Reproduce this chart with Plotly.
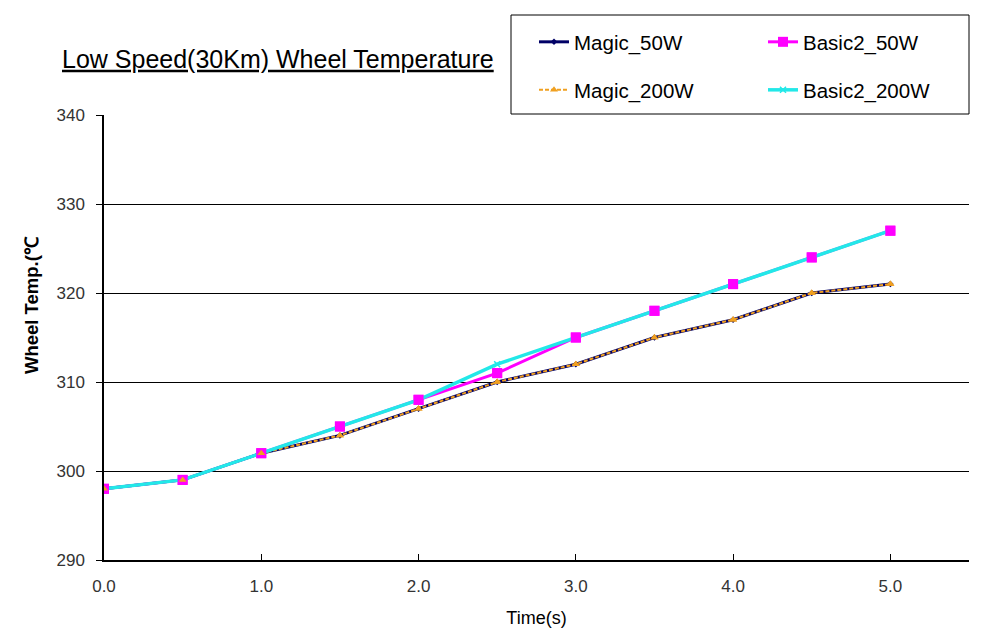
import plotly.graph_objects as go

time_s = [0.0, 0.5, 1.0, 1.5, 2.0, 2.5, 3.0, 3.5, 4.0, 4.5, 5.0]
magic_50w = [298, 299, 302, 304, 307, 310, 312, 315, 317, 320, 321]
magic_200w = [298, 299, 302, 304, 307, 310, 312, 315, 317, 320, 321]
basic2_50w = [298, 299, 302, 305, 308, 311, 315, 318, 321, 324, 327]
basic2_200w = [298, 299, 302, 305, 308, 312, 315, 318, 321, 324, 327]

x_ticks = [0, 1, 2, 3, 4, 5]
x_ticklabels = ["0.0", "1.0", "2.0", "3.0", "4.0", "5.0"]
y_ticks = [290, 300, 310, 320, 330, 340]

FONT = "Liberation Sans"
NAVY = "#000066"
MAGENTA = "#FF00FF"
ORANGE = "#F0A020"
CYAN = "#22E8E8"

fig = go.Figure()
fig.add_trace(go.Scatter(x=time_s, y=magic_50w, name="Magic_50W", mode="lines+markers",
                         line=dict(color=NAVY, width=3),
                         marker=dict(symbol="diamond", size=5, color=NAVY),
                         legend="legend"))
fig.add_trace(go.Scatter(x=time_s, y=basic2_50w, name="Basic2_50W", mode="lines+markers",
                         line=dict(color=MAGENTA, width=3),
                         marker=dict(symbol="square", size=10, color=MAGENTA),
                         legend="legend"))
fig.add_trace(go.Scatter(x=time_s, y=magic_200w, name="Magic_200W", mode="lines+markers",
                         line=dict(color=ORANGE, width=2, dash="4px,2px"),
                         marker=dict(symbol="triangle-up", size=7, color=ORANGE),
                         legend="legend2"))
fig.add_trace(go.Scatter(x=time_s, y=basic2_200w, name="Basic2_200W", mode="lines+markers",
                         line=dict(color=CYAN, width=3.5),
                         marker=dict(symbol="x-thin", size=6, color=CYAN, line=dict(color=CYAN, width=1.5)),
                         legend="legend2"))
# markers drawn above the lines
fig.add_trace(go.Scatter(x=time_s, y=basic2_50w, mode="markers", showlegend=False, hoverinfo="skip",
                         marker=dict(symbol="square", size=10, color=MAGENTA)))
fig.add_trace(go.Scatter(x=time_s, y=magic_200w, mode="markers", showlegend=False, hoverinfo="skip",
                         marker=dict(symbol="triangle-up", size=7, color=ORANGE)))

legend_common = dict(orientation="h", xanchor="left", yanchor="middle",
                     entrywidth=184, entrywidthmode="pixels",
                     font=dict(family=FONT, size=20.5, color="#000"),
                     bgcolor="rgba(0,0,0,0)", borderwidth=0, itemwidth=30)

fig.update_layout(
    width=1008, height=641,
    paper_bgcolor="white", plot_bgcolor="white",
    margin=dict(l=104, r=39, t=115, b=81, autoexpand=False),
    font=dict(family=FONT, color="#000"),
    title=dict(text="<u>Low Speed(30Km) Wheel Temperature</u>",
               x=62 / 1008, xanchor="left", y=1 - 59 / 641, yanchor="middle",
               font=dict(family=FONT, size=25, color="#000")),
    xaxis=dict(range=[0, 5.5], tickvals=x_ticks, ticktext=x_ticklabels,
               showgrid=False, zeroline=False, showline=True, linecolor="#000", linewidth=1.5,
               ticks="inside", ticklen=6, tickcolor="#000", ticklabelstandoff=10,
               tickfont=dict(family=FONT, size=17, color="#333"),
               title=dict(text="Time(s)", font=dict(family=FONT, size=18, color="#000"), standoff=16)),
    yaxis=dict(range=[290, 340], tickvals=y_ticks,
               showgrid=True, gridcolor="#000", gridwidth=1,
               zeroline=False, showline=True, linecolor="#000", linewidth=1.5,
               ticks="outside", ticklen=6, tickcolor="#000", ticklabelstandoff=8,
               tickfont=dict(family=FONT, size=17, color="#333")),
    annotations=[dict(text="<b>Wheel Temp.(℃</b>", xref="paper", yref="paper",
                      x=-(104 - 31) / 865, y=(560 - 305) / 445, xanchor="center", yanchor="middle",
                      textangle=-90, showarrow=False,
                      font=dict(family=FONT, size=18.5, color="#000"))],
    legend=dict(x=(534 - 104) / 865, y=(560 - 42) / 445, **legend_common),
    legend2=dict(x=(534 - 104) / 865, y=(560 - 90) / 445, **legend_common),
    shapes=[dict(type="rect", xref="paper", yref="paper",
                 x0=(511 - 104) / 865, x1=(969 - 104) / 865,
                 y0=(560 - 114) / 445, y1=(560 - 15) / 445,
                 line=dict(color="#000", width=1), fillcolor="rgba(0,0,0,0)")],
    showlegend=True,
)

fig.write_html("out.html")
